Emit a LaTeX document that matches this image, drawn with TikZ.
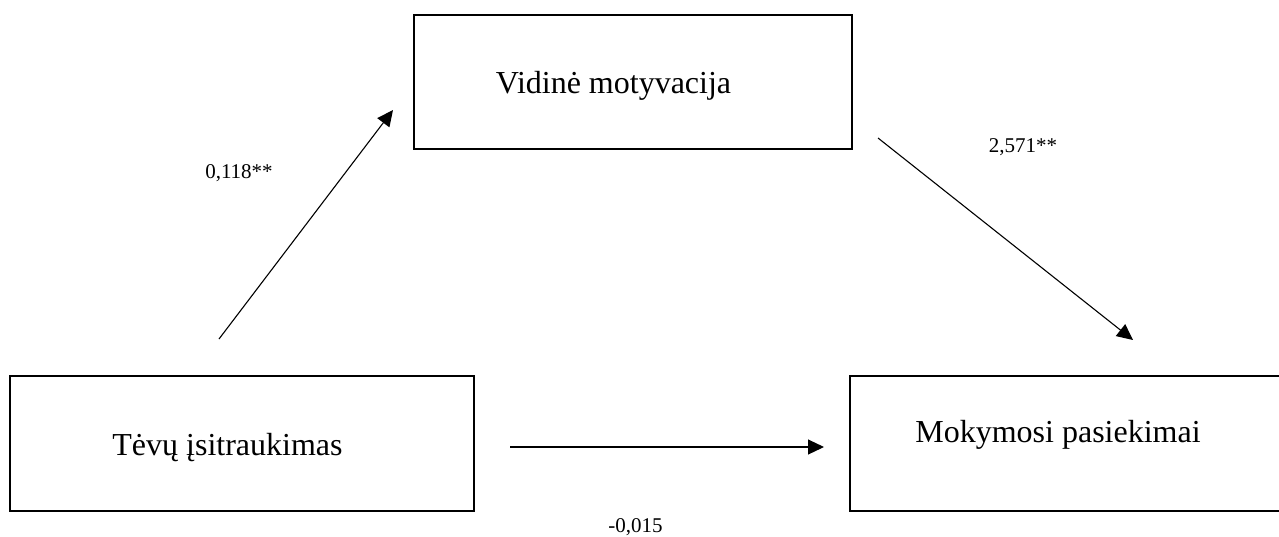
\documentclass[tikz,border=0pt]{standalone}
\usepackage{fontspec}
\setmainfont{Liberation Serif}
\usetikzlibrary{arrows.meta}
\tikzset{
  >={Triangle[length=16pt,width=15pt]},
  box/.style={draw,line width=2.5pt,inner sep=0pt},
  txt/.style={anchor=base,inner sep=0pt,font=\fontsize{32}{38}\selectfont},
  coef/.style={anchor=base,inner sep=0pt,font=\fontsize{21}{25}\selectfont},
  every picture/.style={line width=1.1pt},
}
\begin{document}
\begin{tikzpicture}[x=1pt,y=-1pt]
\useasboundingbox (0,0) rectangle (1279,536);
\node[box,minimum width=438pt,minimum height=134pt] (VM) at (633,82){};
\node[box,minimum width=464pt,minimum height=135pt] (TI) at (242,443.5){};
\node[box,minimum width=440pt,minimum height=135pt] (MP) at (1070,443.5){};
\node[txt] (vmt) at (613.5,93){Vidinė motyvacija};
\node[txt] (tit) at (227.5,455){Tėvų įsitraukimas};
\node[txt] (mpt) at (1058,442){Mokymosi pasiekimai};
\coordinate (a1) at (219,339); \coordinate (b1) at (393,110);
\coordinate (a2) at (878,138); \coordinate (b2) at (1133,340);
\coordinate (a3) at (510,447); \coordinate (b3) at (824,447);
\draw[->] (a1)--(b1); \draw[->] (a2)--(b2); \draw[->] (a3)--(b3);
\node[coef] (c1) at (239,178){0,118**};
\node[coef] (c2) at (1023,152){2,571**};
\node[coef] (c3) at (635.5,532){-0,015};
\end{tikzpicture}
\end{document}
